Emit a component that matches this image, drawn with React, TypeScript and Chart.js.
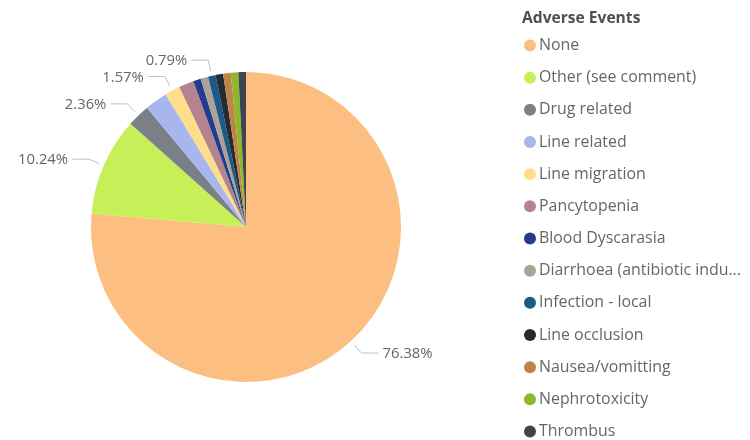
import React, { useEffect, useRef } from "react";
import { Chart, registerables } from "chart.js";

Chart.register(...registerables);

const categories = [
  "None",
  "Other (see comment)",
  "Drug related",
  "Line related",
  "Line migration",
  "Pancytopenia",
  "Blood Dyscarasia",
  "Diarrhoea (antibiotic induced)",
  "Infection - local",
  "Line occlusion",
  "Nausea/vomitting",
  "Nephrotoxicity",
  "Thrombus",
];
const legendLabels = [
  "None",
  "Other (see comment)",
  "Drug related",
  "Line related",
  "Line migration",
  "Pancytopenia",
  "Blood Dyscarasia",
  "Diarrhoea (antibiotic indu...",
  "Infection - local",
  "Line occlusion",
  "Nausea/vomitting",
  "Nephrotoxicity",
  "Thrombus",
];
const counts = [97, 13, 3, 3, 2, 2, 1, 1, 1, 1, 1, 1, 1];
const colors = [
  "#FDBE82",
  "#C6EF58",
  "#7B8087",
  "#A7B7EE",
  "#FEDE8B",
  "#B5838F",
  "#233C8C",
  "#ACA296",
  "#1B5B87",
  "#262A31",
  "#C0834A",
  "#8DB82A",
  "#41444C",
];
const labeledIndices = [0, 1, 2, 4, 8];
const legendTitle = "Adverse Events";

const FONT = "'Open Sans', 'Noto Sans', sans-serif";

const labelPlugin = {
  id: "pieLabels",
  afterDatasetsDraw(chart: any) {
    const ctx = chart.ctx;
    const meta = chart.getDatasetMeta(0);
    const total = counts.reduce((a, b) => a + b, 0);
    ctx.save();
    labeledIndices.forEach((i) => {
      const arc = meta.data[i];
      const { x, y, startAngle, endAngle, outerRadius } = arc.getProps(
        ["x", "y", "startAngle", "endAngle", "outerRadius"],
        true
      );
      const mid = (startAngle + endAngle) / 2;
      const c = Math.cos(mid);
      const s = Math.sin(mid);
      const p0x = x + c * (outerRadius + 5);
      const p0y = y + s * (outerRadius + 5);
      const p1x = x + c * (outerRadius + 16);
      const p1y = y + s * (outerRadius + 16);
      const dir = c >= 0 ? 1 : -1;
      const p2x = p1x + dir * 17;
      ctx.strokeStyle = "#C0C0C0";
      ctx.lineWidth = 1;
      ctx.beginPath();
      ctx.moveTo(p0x, p0y);
      ctx.lineTo(p1x, p1y);
      ctx.lineTo(p2x, p1y);
      ctx.stroke();
      const pct = ((counts[i] / total) * 100).toFixed(2) + "%";
      ctx.fillStyle = "#666666";
      ctx.font = `14.8px ${FONT}`;
      ctx.textBaseline = "middle";
      ctx.textAlign = dir > 0 ? "left" : "right";
      ctx.fillText(pct, p2x + dir * 4, p1y + 1);
    });
    ctx.restore();
  },
};

const legendPlugin = {
  id: "customLegend",
  afterDraw(chart: any) {
    const ctx = chart.ctx;
    ctx.save();
    ctx.textBaseline = "middle";
    ctx.textAlign = "left";
    ctx.fillStyle = "#505050";
    ctx.font = `bold 15.6px ${FONT}`;
    ctx.fillText(legendTitle, 522, 19);
    legendLabels.forEach((lab, i) => {
      const cy = 45.5 + i * 32.17;
      ctx.beginPath();
      ctx.fillStyle = colors[i];
      ctx.arc(530, cy, 6, 0, Math.PI * 2);
      ctx.fill();
      ctx.fillStyle = "#666666";
      ctx.font = `15.9px ${FONT}`;
      ctx.fillText(lab, 539, cy);
    });
    ctx.restore();
  },
};

export default function App() {
  const ref = useRef<HTMLCanvasElement>(null);
  useEffect(() => {
    document.body.style.margin = "0";
    const chart = new Chart(ref.current as HTMLCanvasElement, {
      type: "pie",
      data: {
        labels: categories,
        datasets: [
          {
            data: counts,
            backgroundColor: colors,
            borderWidth: 0,
          },
        ],
      },
      options: {
        animation: false,
        responsive: false,
        layout: { padding: { left: 91, right: 349, top: 72, bottom: 58 } },
        plugins: { legend: { display: false }, tooltip: { enabled: false } },
      },
      plugins: [labelPlugin, legendPlugin],
    });
    return () => chart.destroy();
  }, []);
  return (
    <div style={{ width: 750, height: 440 }}>
      <canvas ref={ref} width={750} height={440} />
    </div>
  );
}
